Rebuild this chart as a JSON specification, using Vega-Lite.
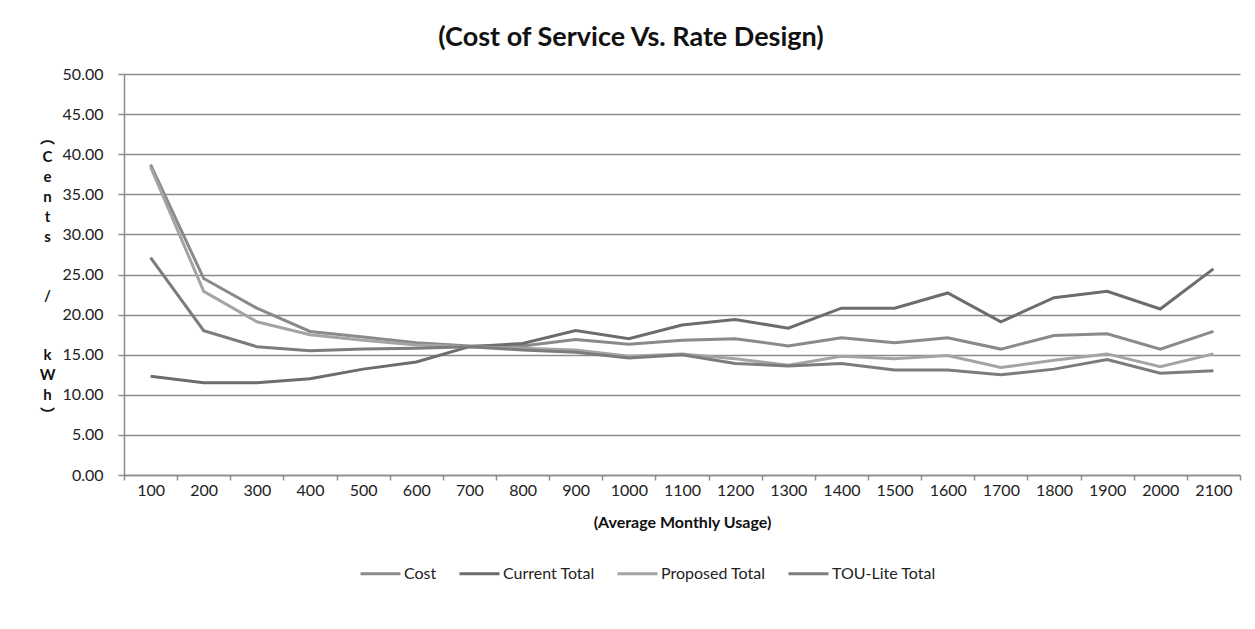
{
  "$schema": "https://vega.github.io/schema/vega-lite/v6.json",
  "autosize": "none",
  "width": 1116,
  "height": 401,
  "padding": {"left": 124, "top": 74, "right": 15, "bottom": 154},
  "background": "white",
  "title": {
    "text": "(Cost of Service Vs. Rate Design)",
    "font": "Lato",
    "fontSize": 27,
    "fontWeight": "bold",
    "color": "#111111",
    "anchor": "middle",
    "frame": "group",
    "dx": -51,
    "offset": 14
  },
  "config": {
    "view": {"stroke": null},
    "font": "Lato",
    "axis": {
      "labelFont": "Lato",
      "labelFontSize": 16,
      "labelColor": "#222222",
      "titleFont": "Lato",
      "titleFontSize": 16,
      "titleFontWeight": "bold",
      "titleColor": "#111111",
      "domainColor": "#8c8c8c",
      "tickColor": "#8c8c8c",
      "gridColor": "#8c8c8c",
      "domainWidth": 1.5,
      "tickWidth": 1.5,
      "gridWidth": 1.5
    },
    "legend": {
      "labelFont": "Lato",
      "labelFontSize": 16,
      "labelColor": "#222222"
    }
  },
  "data": {
    "values": [
      {"usage": 100, "series": "Cost", "value": 38.7},
      {"usage": 200, "series": "Cost", "value": 24.5},
      {"usage": 300, "series": "Cost", "value": 20.8},
      {"usage": 400, "series": "Cost", "value": 17.9},
      {"usage": 500, "series": "Cost", "value": 17.2},
      {"usage": 600, "series": "Cost", "value": 16.5},
      {"usage": 700, "series": "Cost", "value": 16.1},
      {"usage": 800, "series": "Cost", "value": 16.1},
      {"usage": 900, "series": "Cost", "value": 16.9},
      {"usage": 1000, "series": "Cost", "value": 16.3},
      {"usage": 1100, "series": "Cost", "value": 16.8},
      {"usage": 1200, "series": "Cost", "value": 17.0},
      {"usage": 1300, "series": "Cost", "value": 16.1},
      {"usage": 1400, "series": "Cost", "value": 17.1},
      {"usage": 1500, "series": "Cost", "value": 16.5},
      {"usage": 1600, "series": "Cost", "value": 17.1},
      {"usage": 1700, "series": "Cost", "value": 15.7},
      {"usage": 1800, "series": "Cost", "value": 17.4},
      {"usage": 1900, "series": "Cost", "value": 17.6},
      {"usage": 2000, "series": "Cost", "value": 15.7},
      {"usage": 2100, "series": "Cost", "value": 17.9},

      {"usage": 100, "series": "Current Total", "value": 12.3},
      {"usage": 200, "series": "Current Total", "value": 11.5},
      {"usage": 300, "series": "Current Total", "value": 11.5},
      {"usage": 400, "series": "Current Total", "value": 12.0},
      {"usage": 500, "series": "Current Total", "value": 13.2},
      {"usage": 600, "series": "Current Total", "value": 14.1},
      {"usage": 700, "series": "Current Total", "value": 16.0},
      {"usage": 800, "series": "Current Total", "value": 16.4},
      {"usage": 900, "series": "Current Total", "value": 18.0},
      {"usage": 1000, "series": "Current Total", "value": 17.0},
      {"usage": 1100, "series": "Current Total", "value": 18.7},
      {"usage": 1200, "series": "Current Total", "value": 19.4},
      {"usage": 1300, "series": "Current Total", "value": 18.3},
      {"usage": 1400, "series": "Current Total", "value": 20.8},
      {"usage": 1500, "series": "Current Total", "value": 20.8},
      {"usage": 1600, "series": "Current Total", "value": 22.7},
      {"usage": 1700, "series": "Current Total", "value": 19.1},
      {"usage": 1800, "series": "Current Total", "value": 22.1},
      {"usage": 1900, "series": "Current Total", "value": 22.9},
      {"usage": 2000, "series": "Current Total", "value": 20.7},
      {"usage": 2100, "series": "Current Total", "value": 25.7},

      {"usage": 100, "series": "Proposed Total", "value": 38.4},
      {"usage": 200, "series": "Proposed Total", "value": 22.9},
      {"usage": 300, "series": "Proposed Total", "value": 19.1},
      {"usage": 400, "series": "Proposed Total", "value": 17.5},
      {"usage": 500, "series": "Proposed Total", "value": 16.8},
      {"usage": 600, "series": "Proposed Total", "value": 16.2},
      {"usage": 700, "series": "Proposed Total", "value": 16.0},
      {"usage": 800, "series": "Proposed Total", "value": 15.8},
      {"usage": 900, "series": "Proposed Total", "value": 15.6},
      {"usage": 1000, "series": "Proposed Total", "value": 14.8},
      {"usage": 1100, "series": "Proposed Total", "value": 15.1},
      {"usage": 1200, "series": "Proposed Total", "value": 14.5},
      {"usage": 1300, "series": "Proposed Total", "value": 13.7},
      {"usage": 1400, "series": "Proposed Total", "value": 14.8},
      {"usage": 1500, "series": "Proposed Total", "value": 14.5},
      {"usage": 1600, "series": "Proposed Total", "value": 14.9},
      {"usage": 1700, "series": "Proposed Total", "value": 13.4},
      {"usage": 1800, "series": "Proposed Total", "value": 14.3},
      {"usage": 1900, "series": "Proposed Total", "value": 15.1},
      {"usage": 2000, "series": "Proposed Total", "value": 13.5},
      {"usage": 2100, "series": "Proposed Total", "value": 15.1},

      {"usage": 100, "series": "TOU-Lite Total", "value": 27.1},
      {"usage": 200, "series": "TOU-Lite Total", "value": 18.0},
      {"usage": 300, "series": "TOU-Lite Total", "value": 16.0},
      {"usage": 400, "series": "TOU-Lite Total", "value": 15.5},
      {"usage": 500, "series": "TOU-Lite Total", "value": 15.7},
      {"usage": 600, "series": "TOU-Lite Total", "value": 15.8},
      {"usage": 700, "series": "TOU-Lite Total", "value": 16.0},
      {"usage": 800, "series": "TOU-Lite Total", "value": 15.6},
      {"usage": 900, "series": "TOU-Lite Total", "value": 15.3},
      {"usage": 1000, "series": "TOU-Lite Total", "value": 14.6},
      {"usage": 1100, "series": "TOU-Lite Total", "value": 15.0},
      {"usage": 1200, "series": "TOU-Lite Total", "value": 13.9},
      {"usage": 1300, "series": "TOU-Lite Total", "value": 13.6},
      {"usage": 1400, "series": "TOU-Lite Total", "value": 13.9},
      {"usage": 1500, "series": "TOU-Lite Total", "value": 13.1},
      {"usage": 1600, "series": "TOU-Lite Total", "value": 13.1},
      {"usage": 1700, "series": "TOU-Lite Total", "value": 12.5},
      {"usage": 1800, "series": "TOU-Lite Total", "value": 13.2},
      {"usage": 1900, "series": "TOU-Lite Total", "value": 14.4},
      {"usage": 2000, "series": "TOU-Lite Total", "value": 12.7},
      {"usage": 2100, "series": "TOU-Lite Total", "value": 13.0}
    ]
  },
  "mark": {"type": "line", "strokeWidth": 3, "strokeJoin": "miter"},
  "encoding": {
    "x": {
      "field": "usage",
      "type": "ordinal",
      "bandPosition": 0.5,
      "scale": {"type": "band", "paddingInner": 0, "paddingOuter": 0},
      "axis": {
        "title": "(Average Monthly Usage)",
        "labelAngle": 0,
        "tickBand": "extent",
        "tickSize": 5,
        "labelPadding": 2,
        "titlePadding": 16,
        "grid": false
      }
    },
    "y": {
      "field": "value",
      "type": "quantitative",
      "scale": {"domain": [0, 50], "nice": false, "zero": true},
      "axis": {
        "values": [0, 5, 10, 15, 20, 25, 30, 35, 40, 45, 50],
        "format": ".2f",
        "tickSize": 6,
        "labelPadding": 15,
        "grid": true,
        "title": ["︵", "C", "e", "n", "t", "s", "\u2800", "\u2800", "/", "\u2800", "\u2800", "k", "W", "h", "︶"],
        "titleFont": "Lato, DejaVu Sans, Noto Sans CJK SC",
        "titleFontSize": 15,
        "titleAngle": 0,
        "titleAlign": "center",
        "titleBaseline": "top",
        "titleX": -77,
        "titleY": 56,
        "titleLineHeight": 19.8
      }
    },
    "color": {
      "field": "series",
      "type": "nominal",
      "scale": {
        "domain": ["Cost", "Current Total", "Proposed Total", "TOU-Lite Total"],
        "range": ["#8a8a8a", "#6c6c6c", "#a4a4a4", "#7c7c7c"]
      },
      "legend": {
        "title": null,
        "orient": "none",
        "direction": "horizontal",
        "columns": 4,
        "legendX": 235,
        "legendY": 478,
        "symbolType": "stroke",
        "symbolSize": 1600,
        "symbolStrokeWidth": 3,
        "labelOffset": 2,
        "columnPadding": 16,
        "padding": 0
      }
    }
  }
}
